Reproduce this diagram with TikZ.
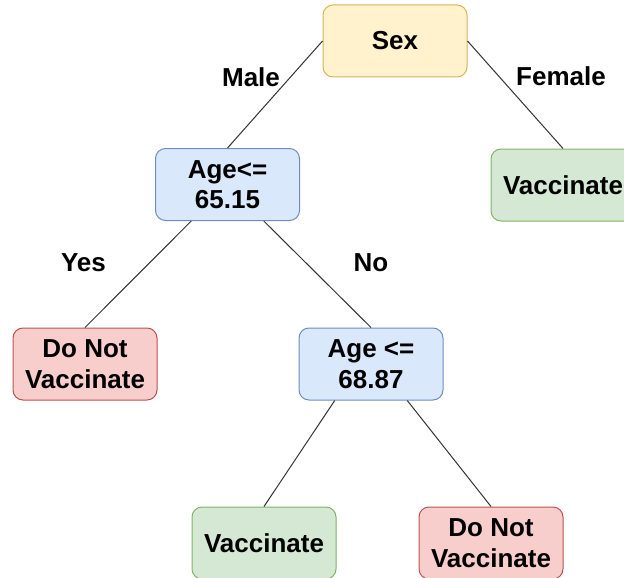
\documentclass[tikz,border=0pt]{standalone}
\usepackage{fontspec}
\setmainfont{Liberation Sans}
\usetikzlibrary{calc}
\definecolor{yfill}{HTML}{FFF2CC}\definecolor{ydraw}{HTML}{D6B656}
\definecolor{bfill}{HTML}{DAE8FC}\definecolor{bdraw}{HTML}{6C8EBF}
\definecolor{gfill}{HTML}{D5E8D4}\definecolor{gdraw}{HTML}{82B366}
\definecolor{rfill}{HTML}{F8CECC}\definecolor{rdraw}{HTML}{B85450}
\definecolor{edgecol}{HTML}{333333}
\begin{document}
\begin{tikzpicture}[x=1pt,y=-1pt,
  font=\fontsize{26}{30.5}\selectfont\bfseries,
  box/.style={rounded corners=10pt, line width=1pt, minimum width=144pt,
    minimum height=72pt, align=center, inner sep=2pt},
  cond/.style={box, fill=bfill, draw=bdraw},
  root/.style={box, fill=yfill, draw=ydraw},
  yes/.style={box, fill=gfill, draw=gdraw},
  nope/.style={box, fill=rfill, draw=rdraw},
  edge/.style={draw=edgecol, line width=1pt},
  lbl/.style={inner sep=0pt}]
\useasboundingbox (0,0) rectangle (624,578);
\clip (0,0) rectangle (624,578);

% tree nodes
\node[root] (sex) at (395,41) {Sex};
\node[cond] (age1) at (227.5,184.5) {Age<=\\65.15};
\node[yes] (vacR) at (563,185) {Vaccinate};
\node[nope] (dnL) at (85,364) {Do Not\\Vaccinate};
\node[cond] (age2) at (371,364) {Age <=\\68.87};
\node[yes] (vacB) at (264,543) {Vaccinate};
\node[nope] (dnB) at (491,543) {Do Not\\Vaccinate};

% branch points on the lower edges of the condition boxes
\coordinate (a1l) at ($(age1.south west)!0.25!(age1.south east)$);
\coordinate (a1r) at ($(age1.south west)!0.75!(age1.south east)$);
\coordinate (a2l) at ($(age2.south west)!0.25!(age2.south east)$);
\coordinate (a2r) at ($(age2.south west)!0.75!(age2.south east)$);

\draw[edge] (sex.west) -- (age1.north);
\draw[edge] (sex.east) -- (vacR.north);
\draw[edge] (a1l) -- (dnL.north);
\draw[edge] (a1r) -- (age2.north);
\draw[edge] (a2l) -- (vacB.north);
\draw[edge] (a2r) -- (dnB.north);

% branch labels
\node[lbl] (lmale) at (251,77) {Male};
\node[lbl] (lfemale) at (561,76) {Female};
\node[lbl] (lyes) at (83.5,263) {Yes};
\node[lbl] (lno) at (371,263) {No};
\end{tikzpicture}
\end{document}
